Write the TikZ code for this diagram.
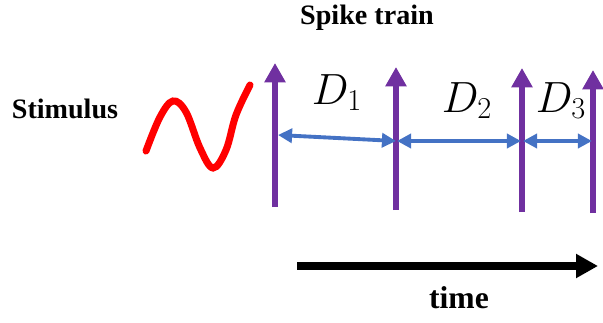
\documentclass[tikz,border=0pt]{standalone}
\usepackage{fontspec}
\setmainfont{Liberation Serif}
\usetikzlibrary{arrows.meta}
\definecolor{SpikePurple}{RGB}{112, 48, 160}
\definecolor{GapBlue}{RGB}{68, 114, 196}

\begin{document}
\begin{tikzpicture}[
                x=0.02cm, y=-0.02cm,
                spike/.style={-{Triangle[length=11pt, width=11.5pt]}, line width=3.4pt, SpikePurple},
                gap/.style={{Triangle[length=8pt, width=8pt]}-{Triangle[length=8pt, width=8pt]}, line width=2.2pt, GapBlue},
                timeaxis/.style={-{Triangle[length=12.5pt, width=13pt]}, line width=4.5pt, black},
                wave/.style={red, line width=4pt, line cap=round},
                title/.style={font=\fontsize{16}{19}\selectfont\bfseries, anchor=base},
                dlabel/.style={font=\fontsize{26}{30}\selectfont, anchor=base}
            ]
                \useasboundingbox (0,0) rectangle (603,322);

                % Spikes
                \coordinate (b1) at (275,207); \coordinate (t1) at (275,63);
                \coordinate (b2) at (396,210); \coordinate (t2) at (396,67);
                \coordinate (b3) at (522,212); \coordinate (t3) at (522,68);
                \coordinate (b4) at (593,213); \coordinate (t4) at (593,70);
                \foreach \i in {1,...,4}
                    \draw[spike] (b\i) -- (t\i);

                % Inter-spike intervals
                \coordinate (g1a) at (278,135); \coordinate (g1b) at (396,141);
                \coordinate (g2a) at (397,141); \coordinate (g2b) at (521,141);
                \coordinate (g3a) at (523,141); \coordinate (g3b) at (592,141);
                \draw[gap] (g1a) -- (g1b);
                \draw[gap] (g2a) -- (g2b);
                \draw[gap] (g3a) -- (g3b);

                \node[dlabel] (d1) at (337,104) {$D_1$};
                \node[dlabel] (d2) at (467,112) {$D_2$};
                \node[dlabel] (d3) at (561,112) {$D_3$};

                % Stimulus
                \draw[wave] plot[smooth, tension=0.6] coordinates {(146,151) (160,117) (173,101) (186,112) (200,148) (213,168) (226,150) (236,115) (250,85)};

                % Labels
                \node[title] (stim) at (65,118) {Stimulus};
                \node[title] (train) at (367,24) {Spike train};

                % Time axis
                \coordinate (ta) at (297,266);
                \coordinate (tb) at (598,266);
                \draw[timeaxis] (ta) -- (tb);
                \node[title, font=\fontsize{18}{21}\selectfont\bfseries] (tlabel) at (459,308) {time};
            \end{tikzpicture}
\end{document}
